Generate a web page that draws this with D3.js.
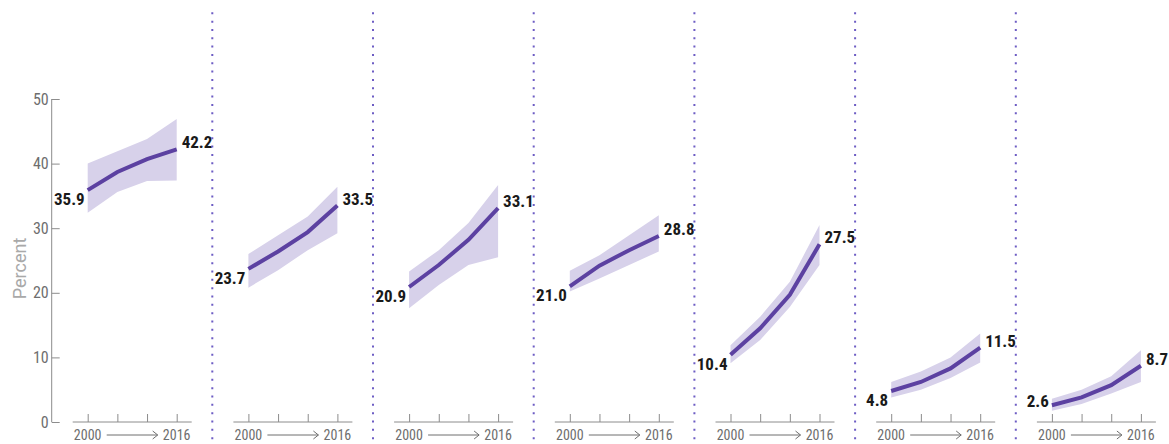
<!DOCTYPE html>
<html>
<head>
<meta charset="utf-8">
<script src="https://cdn.jsdelivr.net/npm/d3@7"></script>
<style>
  html, body { margin: 0; padding: 0; background: #ffffff; }
  svg { display: block; }
  .cond { font-family: "Liberation Sans Narrow", "Roboto Condensed", "DejaVu Sans Condensed", "Roboto", sans-serif; }
</style>
</head>
<body>
<svg id="chart" width="1169" height="444"></svg>
<script>
// Time points shared by every panel
const years = ["2000", "2005", "2010", "2016"];
// Central estimates per panel (percent)
const estimate = [
  [35.9, 38.7, 40.7, 42.2],
  [23.7, 26.4, 29.4, 33.5],
  [20.9, 24.3, 28.2, 33.1],
  [21.0, 24.2, 26.6, 28.8],
  [10.4, 14.5, 19.7, 27.5],
  [4.8, 6.2, 8.3, 11.5],
  [2.6, 3.8, 5.7, 8.7]
];
// Upper and lower bounds of the uncertainty interval
const upper = [
  [40.0, 41.9, 43.8, 46.9],
  [26.0, 28.9, 31.8, 36.4],
  [23.3, 26.6, 30.8, 36.7],
  [23.4, 25.8, 28.9, 32.0],
  [11.9, 16.3, 21.7, 30.5],
  [6.2, 7.8, 10.0, 13.7],
  [3.6, 5.0, 7.1, 11.1]
];
const lower = [
  [32.4, 35.6, 37.3, 37.4],
  [20.8, 23.5, 26.6, 29.2],
  [17.6, 21.2, 24.3, 25.5],
  [20.2, 22.2, 24.3, 26.4],
  [9.1, 12.7, 17.8, 24.3],
  [3.8, 5.0, 6.8, 9.2],
  [1.75, 2.8, 4.4, 6.2]
];
const yTicks = [0, 10, 20, 30, 40, 50];

const svg = d3.select("#chart");
const lineColor = "#5c41a1";
const bandColor = "#d7d1ea";
const axisColor = "#8c8c8c";
const tickText = "#6e6e6e";

const y = d3.scaleLinear().domain([0, 50]).range([422, 99]);
const baseY = y(0);

// Y axis (left of first panel)
const yAxisX = 51.7;
const yAxis = d3.axisRight(y).tickValues(yTicks).tickSize(8).tickFormat(d3.format("d"));
const yg = svg.append("g").attr("transform", `translate(${yAxisX},0)`).call(yAxis);
yg.select(".domain").attr("stroke", axisColor).attr("stroke-width", 1).attr("d", `M0,${y(50)}V${y(0)}`);
yg.selectAll(".tick line").attr("stroke", axisColor);
yg.selectAll(".tick text")
  .attr("x", -3).attr("text-anchor", "end")
  .attr("class", "cond")
  .attr("font-size", 16).attr("fill", tickText);

svg.append("text")
  .attr("transform", `translate(26,${(y(0) + y(50)) / 2 + 8}) rotate(-90)`)
  .attr("text-anchor", "middle")
  .attr("font-family", "Roboto, 'Noto Sans', sans-serif")
  .attr("font-size", 18).attr("fill", "#a9a9a9")
  .text("Percent");

// Panels
const panelStep = 160.7;
const firstX = 87.7;
const span = 89;

estimate.forEach((est, i) => {
  const x0 = firstX + i * panelStep;
  const x = d3.scalePoint().domain(years).range([x0, x0 + span]);
  const g = svg.append("g");

  const rows = years.map((yr, k) => ({ yr, v: est[k], hi: upper[i][k], lo: lower[i][k] }));

  g.append("path")
    .datum(rows)
    .attr("fill", bandColor)
    .attr("d", d3.area().x(d => x(d.yr)).y0(d => y(d.lo)).y1(d => y(d.hi)));

  g.append("path")
    .datum(rows)
    .attr("fill", "none")
    .attr("stroke", lineColor)
    .attr("stroke-width", 4)
    .attr("d", d3.line().x(d => x(d.yr)).y(d => y(d.v)));

  // Bottom axis with upward ticks
  const xAxis = d3.axisTop(x).tickSize(8).tickFormat("");
  const xg = g.append("g").attr("transform", `translate(0,${baseY})`).call(xAxis);
  xg.select(".domain").attr("stroke", axisColor).attr("d", `M${x0 - 15},0H${x0 + span + 15}`);
  xg.selectAll(".tick line").attr("stroke", axisColor);

  // Year range caption
  g.append("text").attr("class", "cond")
    .attr("x", x(years[0])).attr("y", 439.5)
    .attr("text-anchor", "middle").attr("font-size", 14).attr("fill", tickText)
    .text(years[0]);
  g.append("text").attr("class", "cond")
    .attr("x", x(years[years.length - 1])).attr("y", 439.5)
    .attr("text-anchor", "middle").attr("font-size", 14).attr("fill", tickText)
    .text(years[years.length - 1]);
  const ax0 = x0 + 19, ax1 = x0 + 70, ay = 435;
  g.append("path")
    .attr("fill", "none").attr("stroke", tickText).attr("stroke-width", 1)
    .attr("d", `M${ax0},${ay}H${ax1}M${ax1 - 5},${ay - 4}L${ax1},${ay}L${ax1 - 5},${ay + 4}`);

  // Value labels at both ends
  const sx = x(years[0]), sy = y(est[0]);
  g.append("text").attr("class", "cond")
    .attr("x", sx - 3).attr("y", Math.min(sy + 15, baseY - 15))
    .attr("text-anchor", "end").attr("font-size", 17).attr("font-weight", "bold").attr("fill", "#1a1a1a")
    .text(d3.format(".1f")(est[0]));
  const ex = x(years[years.length - 1]), ey = y(est[est.length - 1]);
  g.append("text").attr("class", "cond")
    .attr("x", ex + 5).attr("y", ey - 1)
    .attr("text-anchor", "start").attr("font-size", 17).attr("font-weight", "bold").attr("fill", "#1a1a1a")
    .text(d3.format(".1f")(est[est.length - 1]));
});

// Dotted separators between panels
for (let k = 0; k < estimate.length - 1; k++) {
  const sxp = 212.3 + k * panelStep;
  svg.append("line")
    .attr("x1", sxp).attr("x2", sxp).attr("y1", 12.3).attr("y2", 444)
    .attr("stroke", "#6d5cc4").attr("stroke-width", 2)
    .attr("stroke-dasharray", "2,6.33");
}
</script>
</body>
</html>
